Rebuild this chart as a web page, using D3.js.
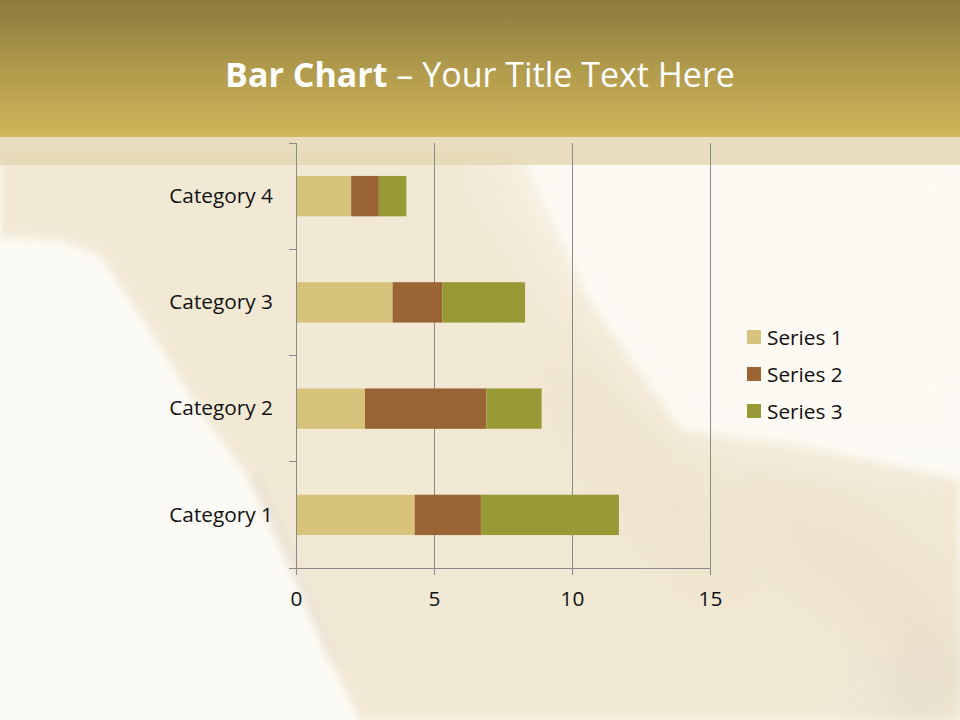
<!DOCTYPE html>
<html><head><meta charset="utf-8">
<script src="https://cdn.jsdelivr.net/npm/d3@7"></script>
<style>html,body{margin:0;padding:0;background:#fcfaf4;}svg{display:block;}</style>
</head><body>
<svg id="chart" width="960" height="720"></svg>
<script>
const categories = ["Category 1", "Category 2", "Category 3", "Category 4"];
const seriesNames = ["Series 1", "Series 2", "Series 3"];
const series1 = [4.3, 2.5, 3.5, 2];
const series2 = [2.4, 4.4, 1.8, 1];
const series3 = [5, 2, 3, 1];
const xTicks = [0, 5, 10, 15];
const colors = ["#d8c37c", "#9a6434", "#989a36"];
const titleBold = "Bar Chart";
const titleRest = " \u2013 Your Title Text Here";

const svg = d3.select("#chart");
const W = 960, H = 720;
const defs = svg.append("defs");

// background
const hg = defs.append("linearGradient").attr("id","hdr").attr("x1",0).attr("y1",0).attr("x2",0).attr("y2",1);
hg.append("stop").attr("offset","0%").attr("stop-color","#8c7a3e");
hg.append("stop").attr("offset","50%").attr("stop-color","#b09a4c");
hg.append("stop").attr("offset","100%").attr("stop-color","#d2b55b");
function blur(id, s){
  const f = defs.append("filter").attr("id",id).attr("x","-50%").attr("y","-50%").attr("width","200%").attr("height","200%");
  f.append("feGaussianBlur").attr("stdDeviation",s);
}
blur("b4",4); blur("b15",15); blur("b30",30);

svg.append("rect").attr("width",W).attr("height",H).attr("fill","#fcfaf4");
const bg = svg.append("g");
// left part of the beige cloth (crisper edge)
bg.append("path").attr("d","M0,150 L520,150 L590,300 L680,430 L800,445 L960,480 L960,720 L360,720 L330,660 L290,560 L250,480 L200,410 L150,330 L100,255 L60,240 L0,237 Z")
  .attr("fill","#f2e9d5").attr("filter","url(#b4)");
// lighter region upper right with soft edge
bg.append("path").attr("d","M500,140 L980,140 L980,440 L800,430 L690,410 L600,290 Z")
  .attr("fill","#fcfaf3").attr("filter","url(#b30)");
// subtle darker streaks
bg.append("path").attr("d","M520,330 L620,400 L720,520 L760,620 L700,600 L600,500 Z")
  .attr("fill","#ebdfc6").attr("opacity",0.5).attr("filter","url(#b30)");
bg.append("path").attr("d","M720,470 L860,520 L960,600 L960,700 L880,640 L780,560 Z")
  .attr("fill","#e8dcc5").attr("opacity",0.6).attr("filter","url(#b30)");
bg.append("path").attr("d","M890,660 L960,650 L960,720 L870,720 Z")
  .attr("fill","#ddd3c4").attr("opacity",0.6).attr("filter","url(#b30)");
// soft shadow at left edge of cloth
bg.append("path").attr("d","M260,470 L300,560 L340,660 L330,660 L288,565 L250,480 Z")
  .attr("fill","#e6dcd0").attr("opacity",0.5).attr("filter","url(#b4)");
bg.append("rect").attr("x",0).attr("y",0).attr("width",W).attr("height",137).attr("fill","url(#hdr)");
bg.append("rect").attr("x",0).attr("y",137).attr("width",W).attr("height",28).attr("fill","#e2d4ae").attr("opacity",0.75);

// title
const title = svg.append("text").attr("x",480).attr("y",87).attr("text-anchor","middle")
  .attr("font-family","'Open Sans', sans-serif").attr("font-size",34).attr("fill","#ffffff");
title.append("tspan").attr("font-weight","bold").text(titleBold);
title.append("tspan").attr("font-weight","normal").text(titleRest);

// scales
const x = d3.scaleLinear().domain([0,15]).range([296,710]);
const y = d3.scaleBand().domain(categories.slice().reverse()).range([143,568]).paddingInner(0.62).paddingOuter(0.31);
const step = y.step();

const font = "'Open Sans', sans-serif";
const fs = 20.8;
const axisColor = "#8a8a8a";

// gridlines
const g = svg.append("g");
g.selectAll(".grid").data(xTicks.slice(1)).join("line")
  .attr("x1",d=>x(d)).attr("x2",d=>x(d)).attr("y1",143).attr("y2",568)
  .attr("stroke",axisColor).attr("stroke-width",1).attr("shape-rendering","crispEdges");

// stacked data
const rows = categories.map((c,i)=>({cat:c, "Series 1":series1[i], "Series 2":series2[i], "Series 3":series3[i]}));
const stacked = d3.stack().keys(seriesNames)(rows);
stacked.forEach((layer,si)=>{
  g.append("g").attr("fill",colors[si]).selectAll("rect").data(layer).join("rect")
    .attr("x",d=>x(d[0])).attr("width",d=>x(d[1])-x(d[0]))
    .attr("y",d=>y(d.data.cat)).attr("height",y.bandwidth());
});

// y axis
const yAxis = d3.axisLeft(y).tickSize(0).tickPadding(23);
const ya = g.append("g").attr("transform","translate(296,0)").call(yAxis);
ya.select(".domain").remove();
ya.selectAll("text").attr("font-family",font).attr("font-size",fs).attr("fill","#111");
g.append("line").attr("x1",296).attr("x2",296).attr("y1",143).attr("y2",568).attr("stroke",axisColor).attr("shape-rendering","crispEdges");
const bounds = d3.range(categories.length+1).map(i=>143+i*step);
g.selectAll(".ytick").data(bounds).join("line")
  .attr("x1",289).attr("x2",296).attr("y1",d=>d).attr("y2",d=>d)
  .attr("stroke",axisColor).attr("shape-rendering","crispEdges");

// x axis
const xAxis = d3.axisBottom(x).tickValues(xTicks).tickSize(7).tickSizeOuter(0).tickPadding(16);
const xa = g.append("g").attr("transform","translate(0,568)").call(xAxis);
xa.select(".domain").attr("stroke",axisColor).attr("shape-rendering","crispEdges");
xa.selectAll("line").attr("stroke",axisColor).attr("shape-rendering","crispEdges");
xa.selectAll("text").attr("font-family",font).attr("font-size",fs).attr("fill","#111");

// legend
const lg = svg.append("g").attr("transform","translate(747,337)");
seriesNames.forEach((s,i)=>{
  const r = lg.append("g").attr("transform",`translate(0,${i*37})`);
  r.append("rect").attr("x",0).attr("y",-7).attr("width",14).attr("height",14).attr("fill",colors[i]);
  r.append("text").attr("x",20).attr("y",8).attr("font-family",font).attr("font-size",fs).attr("fill","#111").text(s);
});
</script>
</body></html>
